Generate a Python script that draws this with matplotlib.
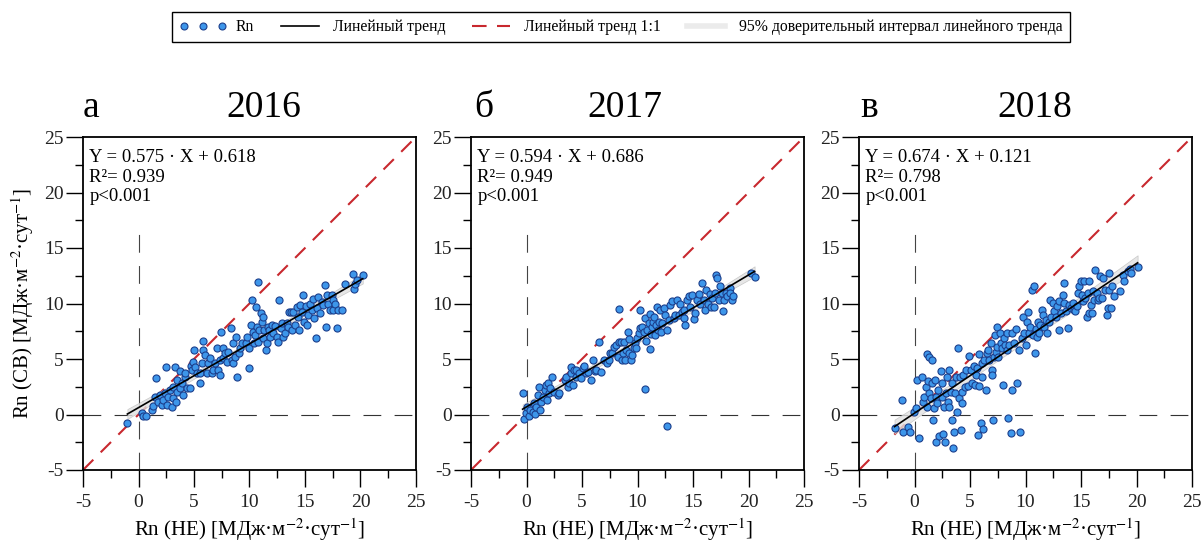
import numpy as np
import matplotlib
matplotlib.use("Agg")
import matplotlib.pyplot as plt
from matplotlib.lines import Line2D
from matplotlib.ticker import MultipleLocator

plt.rcParams['font.family'] = ['Liberation Serif', 'DejaVu Serif']
plt.rcParams['mathtext.fontset'] = 'stix'
plt.rcParams['axes.unicode_minus'] = False

# Rn, 2016: x = НЕ, y = СВ
x16 = [-1.0, 0.3, 0.45, 0.7, 1.2, 1.35, 1.5, 1.6, 1.8, 1.95, 2.1, 2.25, 2.4, 2.5, 2.6, 2.7,
       2.85, 3.0, 3.1, 3.15, 3.25, 3.4, 3.45, 3.5, 3.7, 3.75, 3.9, 4.05, 4.15, 4.2, 4.35, 4.6,
       4.7, 4.8, 4.95, 5.0, 5.1, 5.25, 5.5, 5.55, 5.7, 5.8, 5.85, 6.0, 6.15, 6.3, 6.4, 6.6,
       6.75, 6.9, 7.05, 7.2, 7.3, 7.35, 7.4, 7.6, 7.65, 7.8, 7.95, 8.1, 8.3, 8.4, 8.5, 8.55,
       8.7, 8.8, 8.9, 9.05, 9.15, 9.3, 9.7, 9.8, 9.95, 10.0, 10.1, 10.2, 10.3, 10.4, 10.5, 10.6,
       10.65, 10.75, 10.8, 10.9, 11.0, 11.1, 11.2, 11.25, 11.35, 11.45, 11.55, 11.65, 11.8, 11.85,
       12.0, 12.15, 12.3, 12.45, 12.6, 12.7, 12.8, 12.9, 13.05, 13.2, 13.35, 13.5, 13.6, 13.7,
       13.8, 13.95, 14.1, 14.25, 14.4, 14.5, 14.55, 14.7, 14.85, 14.95, 15.05, 15.15, 15.3, 15.45,
       15.6, 15.7, 15.8, 15.95, 16.05, 16.2, 16.35, 16.5, 16.65, 16.8, 16.9, 17.0, 17.1, 17.25,
       17.4, 17.5, 17.55, 17.7, 17.85, 18.0, 18.3, 18.6, 19.35, 19.4, 19.5, 19.65, 20.2]
y16 = [-0.8, 0.1, -0.15, -0.15, 0.4, 0.75, 1.6, 3.25, 1.15, 1.75, 0.85, 1.35, 1.9, 4.3, 0.9, 1.6,
       2.2, 0.7, 1.45, 2.5, 4.25, 1.15, 2.05, 3.1, 3.95, 2.35, 2.8, 1.75, 3.4, 3.7, 2.35, 2.35,
       4.35, 4.0, 4.75, 5.8, 4.25, 3.7, 2.8, 3.7, 4.6, 6.65, 5.8, 5.35, 3.7, 4.6, 5.05, 3.7,
       4.0, 4.6, 5.95, 4.05, 3.55, 4.9, 7.4, 5.95, 5.05, 5.5, 4.75, 5.65, 7.75, 4.95, 4.6, 6.4,
       5.2, 7.0, 3.4, 5.5, 5.95, 6.4, 6.4, 6.95, 4.15, 5.95, 8.05, 10.35, 7.45, 6.4, 7.15, 9.7,
       7.9, 11.9, 6.55, 7.6, 9.15, 8.35, 6.85, 8.8, 7.6, 5.8, 6.4, 7.9, 7.6, 7.0,
       8.05, 7.3, 7.95, 7.0, 6.55, 10.35, 7.75, 8.2, 7.0, 7.3, 8.2, 7.9, 9.25, 9.25,
       7.6, 9.25, 8.05, 9.7, 8.8, 7.6, 9.85, 9.25, 10.75, 8.35, 9.75, 8.05, 8.95, 10.0,
       9.4, 10.45, 8.65, 6.9, 9.55, 10.6, 9.1, 10.15, 9.85, 11.7, 7.9, 10.75, 10.0, 9.4,
       10.75, 9.4, 10.3, 10.0, 7.75, 9.4, 9.4, 11.8, 12.7, 11.35, 11.8, 12.15, 12.6]

# Rn, 2017
x17 = [-0.35, -0.25, -0.05, 0.05, 0.25, 0.35, 0.55, 0.65, 0.75, 0.9, 1.05, 1.15, 1.25, 1.35, 1.5,
       1.65, 1.75, 1.85, 1.95, 2.05, 2.15, 2.3, 2.45, 2.85, 2.95, 3.45, 3.6, 3.7, 3.85, 4.0,
       4.05, 4.15, 4.3, 4.45, 4.5, 4.75, 4.95, 5.1, 5.2, 5.4, 5.55, 5.85, 6.0, 6.2, 6.3, 6.5,
       6.7, 6.95, 7.25, 7.4, 7.55, 7.7, 7.9, 8.05, 8.2, 8.3, 8.35, 8.5, 8.6, 8.65, 8.8, 8.9,
       9.0, 9.1, 9.2, 9.25, 9.4, 9.5, 9.65, 9.8, 9.9, 9.95, 10.1, 10.2, 10.25, 10.4, 10.55,
       10.65, 10.7, 10.8, 10.85, 11.0, 11.1, 11.15, 11.2, 11.3, 11.4, 11.5, 11.6, 11.7, 11.75,
       11.85, 11.95, 12.05, 12.15, 12.25, 12.35, 12.5, 12.65, 12.7, 12.8, 12.95, 13.1, 13.25,
       13.4, 13.55, 13.7, 13.85, 14.0, 14.15, 14.2, 14.3, 14.45, 14.6, 14.75, 14.9, 15.05,
       15.2, 15.35, 15.5, 15.65, 15.8, 15.95, 16.1, 16.2, 16.35, 16.5, 16.65, 16.7, 16.85,
       17.0, 17.1, 17.2, 17.3, 17.45, 17.6, 17.7, 17.8, 18.0, 18.1, 18.3, 18.35, 18.5, 18.6,
       20.2, 20.55]
y17 = [1.95, -0.45, 0.1, 0.7, -0.15, 0.45, 0.25, 1.0, 0.05, 0.65, 1.75, 2.5, 0.4, 1.15, 1.6,
       2.2, 2.65, 1.3, 2.8, 1.9, 2.35, 3.4, 2.05, 1.75, 1.9, 3.15, 3.4, 2.45, 2.8, 3.7,
       4.3, 2.65, 4.0, 3.35, 4.05, 3.7, 3.25, 4.15, 4.35, 3.7, 3.85, 3.15, 4.9, 3.95, 4.0, 6.55,
       3.85, 4.95, 4.6, 4.9, 5.55, 5.5, 6.1, 6.25, 5.2, 9.5, 6.55, 6.55, 4.95, 5.5, 6.55, 4.95,
       5.8, 7.45, 6.8, 5.55, 4.9, 5.35, 5.95, 6.4, 5.95, 6.85, 7.3, 9.45, 7.75, 7.9, 7.4,
       2.3, 8.65, 6.6, 7.65, 8.2, 5.9, 9.05, 7.25, 7.9, 8.35, 8.8, 7.15, 8.05, 9.7,
       7.6, 8.35, 9.4, 7.45, 8.2, 9.55, 8.95, -1.05, 7.6, 8.5, 9.9, 10.2, 8.65,
       8.95, 10.35, 8.95, 10.0, 9.2, 8.65, 9.4, 8.05, 10.35, 10.65, 9.7, 10.8, 8.6,
       9.1, 10.35, 10.9, 10.0, 11.85, 10.35, 9.4, 11.25, 10.0, 10.9, 9.7, 10.5, 9.7,
       10.95, 12.6, 12.3, 10.35, 11.55, 10.95, 9.3, 10.35, 10.95, 10.65, 11.4, 10.95, 10.35, 10.65,
       12.75, 12.35]

# Rn, 2018
x18 = [-1.8, -1.1, -1.05, -0.55, -0.45, -0.05, 0.1, 0.25, 0.45, 0.65, 0.75, 0.85, 1.0, 1.1, 1.15,
       1.25, 1.3, 1.35, 1.45, 1.55, 1.6, 1.65, 1.75, 1.85, 1.9, 1.95, 2.05, 2.15, 2.25, 2.35,
       2.45, 2.5, 2.6, 2.65, 2.75, 2.8, 2.95, 3.05, 3.1, 3.15, 3.25, 3.35, 3.4, 3.45, 3.55,
       3.65, 3.7, 3.85, 3.95, 4.0, 4.1, 4.15, 4.25, 4.3, 4.4, 4.55, 4.65, 4.85, 4.95, 5.05,
       5.2, 5.35, 5.45, 5.55, 5.65, 5.75, 5.8, 5.85, 5.95, 6.05, 6.1, 6.2, 6.25, 6.4, 6.55,
       6.65, 6.7, 6.85, 6.95, 7.0, 7.1, 7.15, 7.25, 7.3, 7.4, 7.45, 7.55, 7.7, 7.75, 7.9,
       8.0, 8.05, 8.15, 8.3, 8.35, 8.45, 8.5, 8.65, 8.75, 8.8, 8.95, 9.1, 9.2, 9.4, 9.5,
       9.65, 9.8, 9.9, 10.05, 10.1, 10.25, 10.35, 10.4, 10.55, 10.65, 10.8, 10.85, 10.95, 11.0,
       11.1, 11.25, 11.3, 11.45, 11.55, 11.7, 11.85, 11.95, 12.1, 12.2, 12.3, 12.45, 12.6,
       12.75, 12.8, 13.0, 13.05, 13.2, 13.35, 13.45, 13.5, 13.65, 13.8, 13.95, 14.1, 14.25,
       14.4, 14.5, 14.6, 14.7, 14.85, 15.0, 15.1, 15.15, 15.3, 15.4, 15.5, 15.6, 15.7, 15.75,
       15.9, 16.0, 16.1, 16.2, 16.3, 16.4, 16.5, 16.65, 16.75, 16.9, 17.0, 17.2, 17.3, 17.4,
       17.5, 17.55, 17.7, 17.8, 17.95, 18.55, 18.75, 18.9, 19.2, 19.45, 19.5, 20.1]
y18 = [-1.2, 1.3, -1.55, -1.1, -1.55, 0.25, 0.55, 3.1, -2.1, 3.4, 1.15, 1.6, 2.5, 5.45, 0.7,
       3.05, 5.2, 1.9, 1.45, 4.95, 2.8, -0.5, 0.55, 3.1, 1.6, -2.45, 1.0, 2.2, -1.95, 3.95,
       1.6, 2.8, -1.8, 0.7, -2.45, 1.9, 3.4, 1.15, 4.0, 0.7, 2.05, -0.5, 2.8, -3.05, -1.55,
       1.9, 3.4, 0.25, 5.95, 1.45, 3.4, -1.4, 1.0, 2.05, 3.55, 2.5, 4.0, 2.55, 5.25, 4.05,
       2.8, 4.35, 2.65, 3.55, 4.2, -1.85, 5.45, 2.55, -0.8, 3.4, 4.6, -1.3, 4.9, 2.2, 5.5,
       5.85, 4.9, 6.4, 4.0, 3.55, -0.5, 5.2, 7.15, 5.65, 7.85, 6.1, 5.2, 7.3, 6.4, 5.95,
       2.65, 6.85, 6.3, 7.3, 5.85, -0.3, 6.25, -1.7, 2.2, 7.35, 6.4, 7.7, 2.8, 5.8, -1.55,
       6.85, 8.8, 7.3, 6.25, 8.3, 9.2, 7.35, 7.9, 11.25, 7.15, 11.6, 5.55, 7.7, 6.95,
       8.3, 7.35, 8.1, 9.4, 9.0, 7.9, 8.5, 7.3, 8.35, 10.35, 8.8, 10.05, 9.3,
       8.8, 9.75, 10.2, 7.6, 9.1, 10.8, 11.85, 10.05, 9.3, 7.75, 9.9, 9.6, 10.05,
       9.45, 9.3, 9.75, 10.95, 11.55, 12.0, 10.8, 10.2, 12.0, 10.5, 8.8, 10.95, 12.0, 9.1,
       9.9, 9.1, 11.1, 10.35, 13.05, 10.95, 10.35, 10.5, 12.45, 10.5, 12.3, 11.25, 8.95, 9.6,
       12.75, 11.25, 9.6, 11.55, 10.65, 11.1, 12.6, 12.0, 12.9, 13.1, 12.75, 13.25]

years = ['2016', '2017', '2018']
letters = ['а', 'б', 'в']
slopes = [0.575, 0.594, 0.674]
intercepts = [0.618, 0.686, 0.121]
r2 = [0.939, 0.949, 0.798]

point_fc = '#3d96ea'
point_ec = '#1c3f8c'
red = '#c8282e'

fig = plt.figure(figsize=(12.02, 5.46), dpi=100)

W, H = 1202, 546
lefts = [83, 471, 859]
letter_x = [83, 474, 860]
year_x = [264, 625, 1035]
data = [(x16, y16), (x17, y17), (x18, y18)]

for i, (xs, ys) in enumerate(data):
    xs = np.array(xs)
    ys = np.array(ys)
    ax = fig.add_axes([lefts[i] / W, (H - 470) / H, 333 / W, 333 / H])
    ax.set_xlim(-5, 25)
    ax.set_ylim(-5, 25)

    # reference lines
    ax.plot([-5, 25], [0, 0], color='#333333', lw=0.8, ls=(0, (16, 12)), zorder=1)
    ax.plot([0, 0], [-5, 16.6], color='#444444', lw=0.8, ls=(0, (16, 12)), zorder=1)
    ax.plot([-5, 25], [-5, 25], color=red, lw=1.5, ls=(0, (7, 5)), zorder=2)

    # trend line with 95% band
    m, c = slopes[i], intercepts[i]
    xl = np.linspace(xs.min(), xs.max(), 100)
    n = len(xs)
    res = ys - (m * xs + c)
    s = np.sqrt((res ** 2).sum() / (n - 2))
    se = s * np.sqrt(1 / n + (xl - xs.mean()) ** 2 / ((xs - xs.mean()) ** 2).sum())
    ax.fill_between(xl, m * xl + c - 1.97 * se, m * xl + c + 1.97 * se,
                    facecolor='#e2e2e2', edgecolor='#bdbdbd', lw=0.5, alpha=0.8, zorder=3)
    ax.scatter(xs, ys, s=26, c=point_fc, edgecolors=point_ec, linewidths=0.8, zorder=4)
    ax.plot(xl, m * xl + c, color='black', lw=1.2, zorder=5)

    ax.text(0.019, 0.926, f'Y = {m:.3f} · X + {c:.3f}', transform=ax.transAxes, fontsize=13.5)
    ax.text(0.019, 0.866, f'R²= {r2[i]:.3f}', transform=ax.transAxes, fontsize=13.5)
    ax.text(0.019, 0.809, 'p<0.001', transform=ax.transAxes, fontsize=13.5)

    ax.xaxis.set_major_locator(MultipleLocator(5))
    ax.xaxis.set_minor_locator(MultipleLocator(2.5))
    ax.yaxis.set_major_locator(MultipleLocator(5))
    ax.yaxis.set_minor_locator(MultipleLocator(2.5))
    ax.tick_params(which='major', length=12, width=1.0, labelsize=14, labelcolor='#222222')
    ax.tick_params(axis='x', which='major', pad=5)
    ax.tick_params(axis='y', which='major', pad=2)
    ax.tick_params(which='minor', length=6, width=1.0)
    for sp in ax.spines.values():
        sp.set_linewidth(1.3)

    ax.set_xlabel('Rn (НЕ) [МДж·м$^{-2}$·сут$^{-1}$]', fontsize=15, labelpad=4)
    if i == 0:
        ax.set_ylabel('Rn (СВ) [МДж·м$^{-2}$·сут$^{-1}$]', fontsize=15, labelpad=6)

    fig.text(letter_x[i] / W, 1 - 117 / H, letters[i], fontsize=27, va='baseline', ha='left')
    fig.text(year_x[i] / W, 1 - 117 / H, years[i], fontsize=27, va='baseline', ha='center')

handles = [
    Line2D([], [], ls='none', marker='o', ms=5, mfc=point_fc, mec=point_ec, mew=0.8),
    Line2D([], [], color='black', lw=1.2),
    Line2D([], [], color=red, lw=1.5, ls=(0, (7, 5))),
    Line2D([], [], color='#ebebeb', lw=4),
]
labels = ['Rn', 'Линейный тренд', 'Линейный тренд 1:1',
          '95% доверительный интервал линейного тренда']
leg = fig.legend(handles, labels, loc='center', bbox_to_anchor=(621 / W, 1 - 27 / H), ncol=4,
                 fontsize=11.3, frameon=True, fancybox=False, edgecolor='black', framealpha=1,
                 handlelength=3, handletextpad=0.6, columnspacing=1.4, numpoints=3,
                 borderpad=0.45)
leg.get_frame().set_linewidth(1.0)

fig.savefig('out.png', dpi=100)
